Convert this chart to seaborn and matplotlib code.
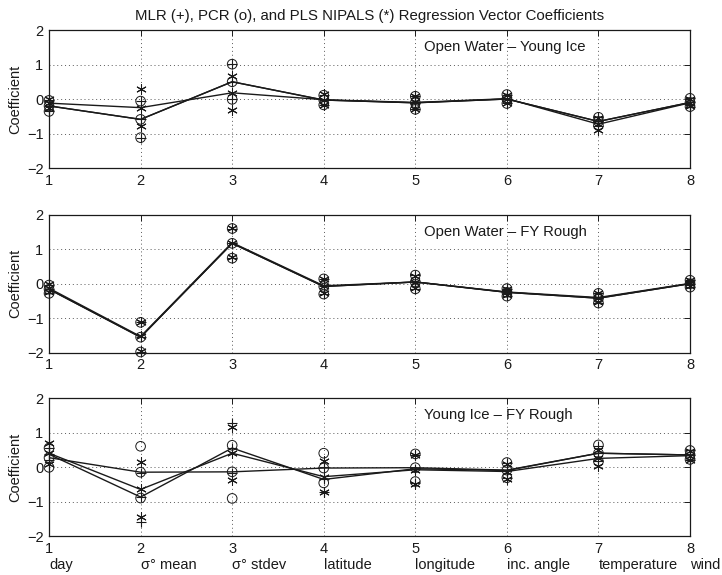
import numpy as np
import pandas as pd
import matplotlib
matplotlib.use("Agg")
import matplotlib.pyplot as plt
import matplotlib.transforms as mtransforms
import seaborn as sns

# Predictor variables (x positions) and their names
variables = [1, 2, 3, 4, 5, 6, 7, 8]
variable_names = ["day", "σ° mean", "σ° stdev", "latitude", "longitude",
                  "inc. angle", "temperature", "wind"]
panel_titles = ["Open Water – Young Ice", "Open Water – FY Rough", "Young Ice – FY Rough"]
methods = ["MLR", "PCR", "PLS"]

# Open Water – Young Ice: mean coefficient and spread per method
owyi_mlr_mean = [-0.20, -0.59, 0.50, -0.03, -0.11, 0.00, -0.65, -0.10]
owyi_mlr_std = [0.16, 0.53, 0.51, 0.14, 0.19, 0.13, 0.12, 0.12]
owyi_pcr_mean = [-0.20, -0.59, 0.50, -0.03, -0.11, 0.00, -0.65, -0.10]
owyi_pcr_std = [0.16, 0.53, 0.51, 0.14, 0.19, 0.13, 0.12, 0.12]
owyi_pls_mean = [-0.12, -0.25, 0.18, -0.02, -0.10, 0.01, -0.73, -0.11]
owyi_pls_std = [0.13, 0.53, 0.50, 0.16, 0.18, 0.12, 0.18, 0.10]

# Open Water – FY Rough
owfy_mlr_mean = [-0.16, -1.55, 1.17, -0.08, 0.05, -0.25, -0.42, 0.00]
owfy_mlr_std = [0.12, 0.43, 0.43, 0.22, 0.20, 0.11, 0.14, 0.10]
owfy_pcr_mean = [-0.16, -1.55, 1.17, -0.08, 0.05, -0.25, -0.42, 0.00]
owfy_pcr_std = [0.12, 0.43, 0.43, 0.22, 0.20, 0.11, 0.14, 0.10]
owfy_pls_mean = [-0.13, -1.53, 1.19, -0.06, 0.05, -0.24, -0.40, 0.01]
owfy_pls_std = [0.11, 0.42, 0.42, 0.20, 0.18, 0.10, 0.13, 0.09]

# Young Ice – FY Rough
yify_mlr_mean = [0.37, -0.87, 0.55, -0.36, -0.05, -0.10, 0.40, 0.35]
yify_mlr_std = [0.17, 0.71, 0.73, 0.35, 0.41, 0.23, 0.22, 0.14]
yify_pcr_mean = [0.27, -0.15, -0.14, -0.03, -0.02, -0.09, 0.40, 0.35]
yify_pcr_std = [0.28, 0.75, 0.77, 0.43, 0.40, 0.22, 0.24, 0.13]
yify_pls_mean = [0.40, -0.65, 0.40, -0.28, -0.08, -0.13, 0.25, 0.33]
yify_pls_std = [0.30, 0.79, 0.77, 0.44, 0.42, 0.22, 0.23, 0.14]

y_ticks = [-2, -1, 0, 1, 2]

panel_data = [
    {"MLR": (owyi_mlr_mean, owyi_mlr_std), "PCR": (owyi_pcr_mean, owyi_pcr_std),
     "PLS": (owyi_pls_mean, owyi_pls_std)},
    {"MLR": (owfy_mlr_mean, owfy_mlr_std), "PCR": (owfy_pcr_mean, owfy_pcr_std),
     "PLS": (owfy_pls_mean, owfy_pls_std)},
    {"MLR": (yify_mlr_mean, yify_mlr_std), "PCR": (yify_pcr_mean, yify_pcr_std),
     "PLS": (yify_pls_mean, yify_pls_std)},
]

rows = []
for p, d in enumerate(panel_data):
    for m in methods:
        mean, std = d[m]
        for v, mu, sd in zip(variables, mean, std):
            rows.append({"panel": p, "method": m, "var": v, "mean": mu, "std": sd})
df = pd.DataFrame(rows)
df["upper"] = df["mean"] + df["std"]
df["lower"] = df["mean"] - df["std"]

sns.set_theme(style="white")
plt.rcParams["font.family"] = ["Liberation Sans", "DejaVu Sans"]
plt.rcParams["axes.unicode_minus"] = True
plt.rcParams["text.color"] = "k"
plt.rcParams["axes.labelcolor"] = "k"

FS = 10.5

marker_style = {
    "MLR": dict(marker="+", color="k", s=55, linewidth=0.8),
    "PCR": dict(marker="o", facecolor="none", edgecolor="k", s=48, linewidth=0.7),
    "PLS": dict(marker=(6, 2, 0), color="k", s=48, linewidth=0.75),
}

fig = plt.figure(figsize=(7.22, 5.75), dpi=100)
left, width = 0.0679, 0.8878
bottoms = [0.7078, 0.3866, 0.0678]
height = 0.24

for p in range(3):
    ax = fig.add_axes([left, bottoms[p], width, height])
    sub = df[df["panel"] == p]
    for m in methods:
        sm = sub[sub["method"] == m]
        sns.lineplot(data=sm, x="var", y="mean", color="k", linewidth=1.0,
                     ax=ax, legend=False, errorbar=None)
        pts = sm.melt(id_vars=["var"], value_vars=["mean", "upper", "lower"],
                      var_name="kind", value_name="coef")
        sns.scatterplot(data=pts, x="var", y="coef", ax=ax, legend=False,
                        zorder=3, clip_on=False, **marker_style[m])
    ax.set_xlim(1, 8)
    ax.set_ylim(-2, 2)
    ax.set_xticks(variables)
    ax.set_yticks(y_ticks)
    ax.set_xticklabels([str(v) for v in variables])
    ax.set_xlabel("")
    ax.set_ylabel("Coefficient", fontsize=FS, labelpad=3)
    ax.grid(True, linestyle=(0, (1, 3)), color="0.35", linewidth=0.7)
    ax.tick_params(direction="in", top=True, right=True, length=4.5, width=0.7,
                   labelsize=FS, pad=4, colors="k")
    for sp in ax.spines.values():
        sp.set_color("k")
        sp.set_linewidth(0.9)
    ax.text(5.1, 1.5, panel_titles[p], ha="left", va="center", fontsize=10.7)
    if p == 0:
        ax.set_title("MLR (+), PCR (o), and PLS NIPALS (*) Regression Vector Coefficients",
                     fontsize=10.8, pad=7)
    if p == 2:
        trans = mtransforms.blended_transform_factory(ax.transData, ax.transAxes)
        for v, name in zip(variables, variable_names):
            ax.text(v, -0.21, name, transform=trans, ha="left", va="center", fontsize=FS)

fig.savefig("out.png", dpi=100)
